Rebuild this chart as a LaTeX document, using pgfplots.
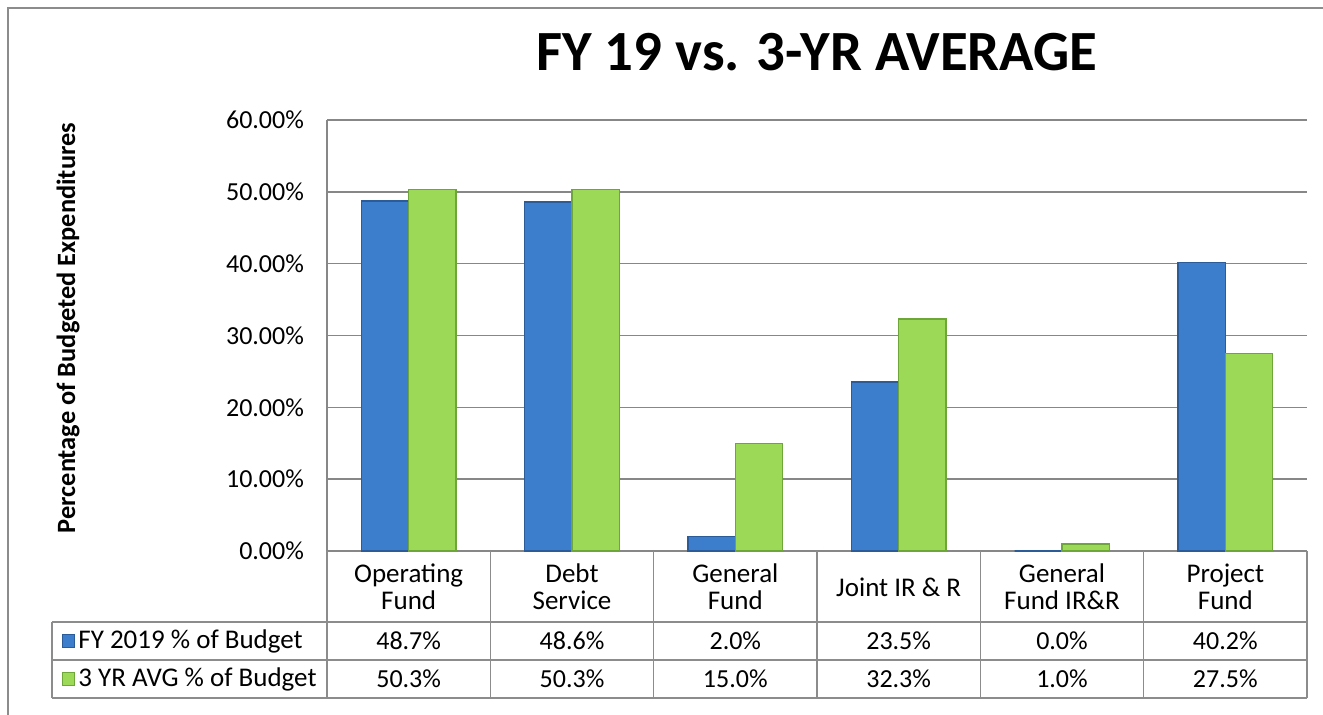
\documentclass[border=0pt]{standalone}
\usepackage{fontspec}
\setmainfont{Carlito}
\usepackage{pgfplots}
\pgfplotsset{compat=1.18}

\definecolor{barblue}{HTML}{3C7DCC}
\definecolor{blueedge}{HTML}{2B5C99}
\definecolor{bargreen}{HTML}{9BD957}
\definecolor{greenedge}{HTML}{6FA63A}
\definecolor{gridgray}{HTML}{878787}
\definecolor{framegray}{HTML}{8C8C8C}

\newcommand{\tabfont}{\fontsize{13.5}{13.5}\selectfont}
\newcommand{\tickfont}{\fontsize{13}{15}\selectfont}

\begin{document}
\begin{tikzpicture}
\path[use as bounding box] (0,0) rectangle (661.5pt,357pt);
% outer chart frame (left and top edges visible)
\draw[framegray, line width=0.8pt] (4pt,-5pt) -- (4pt,353pt) -- (670pt,353pt);

\begin{axis}[
  at={(163.5pt,81.5pt)}, anchor=south west,
  scale only axis, width=490pt, height=215.5pt,
  xmin=-0.5, xmax=5.5, ymin=0, ymax=60,
  ytick={0,10,...,60},
  yticklabels={0.00\%,10.00\%,20.00\%,30.00\%,40.00\%,50.00\%,60.00\%},
  xtick={0,...,5},
  xticklabels={{Operating\\Fund},{Debt\\Service},{General\\Fund},{Joint IR \& R},{General\\Fund IR\&R},{Project\\Fund}},
  xticklabel style={anchor=center, yshift=-18pt, align=center, font=\tabfont},
  yticklabel style={font=\tickfont, anchor=east, xshift=-8pt},
  axis lines*=left,
  axis line style={draw=gridgray, line width=0.8pt},
  ymajorgrids, grid style={gridgray, line width=0.8pt},
  major tick length=0pt,
  ybar=0pt, bar width=0.29,
  clip=false,
]
\addplot[fill=barblue, draw=blueedge, line width=0.7pt] coordinates {
  (0,48.7) (1,48.6) (2,2.0) (3,23.5) (4,0.0) (5,40.2)};
\addplot[fill=bargreen, draw=greenedge, line width=0.7pt] coordinates {
  (0,50.3) (1,50.3) (2,15.0) (3,32.3) (4,1.0) (5,27.5)};
\end{axis}

% title and y label
\node[font=\fontsize{28.4}{32}\selectfont\bfseries] at (408.5pt,331pt) {FY 19 vs. 3-YR AVERAGE};
\node[rotate=90, font=\fontsize{13.2}{15}\selectfont\bfseries] at (34pt,193pt) {Percentage of Budgeted Expenditures};

% data table
\draw[framegray, line width=0.8pt]
  (26pt,46pt) -- (653.5pt,46pt)
  (26pt,27pt) -- (653.5pt,27pt)
  (26pt,8pt) -- (653.5pt,8pt)
  (26pt,46pt) -- (26pt,8pt);
\foreach \k in {0,...,6}
  \draw[framegray, line width=0.8pt] ({163.5pt+\k*81.6667pt},81.5pt) -- ({163.5pt+\k*81.6667pt},8pt);

\fill[barblue, draw=blueedge, line width=0.4pt] (31pt,33.3pt) rectangle ++(6.4pt,6.4pt);
\fill[bargreen, draw=greenedge, line width=0.4pt] (31pt,14.3pt) rectangle ++(6.4pt,6.4pt);
\node[anchor=west, font=\tabfont, inner sep=0pt] at (39pt,36.5pt) {FY 2019 \% of Budget};
\node[anchor=west, font=\tabfont, inner sep=0pt] at (39pt,17.5pt) {3 YR AVG \% of Budget};

\foreach \v [count=\i from 0] in {48.7,48.6,2.0,23.5,0.0,40.2}
  \node[font=\tickfont] at ({204.33pt+\i*81.6667pt},36.5pt) {\v\%};
\foreach \v [count=\i from 0] in {50.3,50.3,15.0,32.3,1.0,27.5}
  \node[font=\tickfont] at ({204.33pt+\i*81.6667pt},17.5pt) {\v\%};
\end{tikzpicture}
\end{document}
